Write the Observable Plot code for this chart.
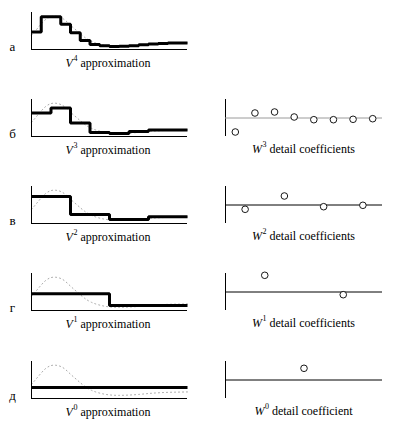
<!DOCTYPE html>
<html><head><meta charset="utf-8">
<script src="https://cdn.jsdelivr.net/npm/d3@7"></script>
<script src="https://cdn.jsdelivr.net/npm/@observablehq/plot@0.6"></script>
<style>
body{margin:0;background:#fff;}
#root{position:relative;width:394px;height:422px;font-family:"Liberation Serif","Times New Roman","DejaVu Serif",serif;color:#000;overflow:hidden;}
.cap{position:absolute;font-size:12px;white-space:nowrap;transform:translate(-50%,-50%);line-height:1;}
.cap sup{font-size:8px;position:relative;top:-1px;margin-left:0.5px;}
.lab{position:absolute;font-size:13px;transform:translate(-50%,-50%);line-height:1;}
#root svg{position:absolute;background:transparent;}
</style></head><body><div id="root"></div>
<script>
// Row labels and levels
const rowLabels = ["а", "б", "в", "г", "д"];
const approxLevels = [4, 3, 2, 1, 0];
const detailLevels = [3, 2, 1, 0];

// Approximation (step) values
const approx4 = [52, 97, 97, 75, 50, 27, 15, 11, 9, 10, 11, 14, 16, 18, 19, 19];
const approx3 = [70, 85, 40, 12, 9, 15, 19, 19];
const approx2 = [80, 27, 12, 20];
const approx1 = [50, 15];
const approx0 = [33];

// Original function (dotted curve)
const curveX = [0, 0.03, 0.06, 0.09, 0.12, 0.15, 0.19, 0.22, 0.25, 0.28, 0.31, 0.34, 0.38, 0.44, 0.5, 0.56, 0.62, 0.69, 0.75, 0.81, 0.88, 0.94, 1];
const curveY = [42, 58, 75, 90, 98, 100, 96, 86, 72, 60, 48, 36, 24, 15, 10, 9, 10, 12, 15, 17, 18.5, 19, 19.5];

// Detail coefficients
const detail3 = [-14, 5, 6, 1, -1.7, -1.7, -1.3, -0.7];
const detail2 = [-4.3, 9, -1.7, -0.3];
const detail1 = [16.7, -2.7];
const detail0 = [11.7];

const approxSets = [approx4, approx3, approx2, approx1, approx0];
const detailSets = [null, detail3, detail2, detail1, detail0];
const detailCaptions = [null, "detail coefficients", "detail coefficients", "detail coefficients", "detail coefficient"];

const root = document.getElementById("root");
const rowTops = [12, 99, 186, 273, 361];
const panelH = 37;
const leftX0 = 31, leftX1 = 187, rightX0 = 225, rightX1 = 382;
const m = 3;

const curve = curveX.map((x, i) => ({x, y: curveY[i]}));

function place(chart, x, y) {
  chart.style.left = (x - m) + "px";
  chart.style.top = (y - m) + "px";
  root.appendChild(chart);
}
function addCap(html, x, y) {
  const d = document.createElement("div");
  d.className = "cap"; d.innerHTML = html;
  d.style.left = x + "px"; d.style.top = y + "px";
  root.appendChild(d);
}
function addLab(t, x, y) {
  const d = document.createElement("div");
  d.className = "lab"; d.textContent = t;
  d.style.left = x + "px"; d.style.top = y + "px";
  root.appendChild(d);
}

approxSets.forEach((vals, r) => {
  const n = vals.length;
  const steps = d3.range(n + 1).map(i => ({x: i / n, y: vals[Math.min(i, n - 1)]}));
  const top = rowTops[r];
  const chart = Plot.plot({
    width: (leftX1 - leftX0) + 2 * m, height: panelH + 2 * m,
    marginLeft: m, marginRight: m, marginTop: m, marginBottom: m,
    style: {background: "transparent", overflow: "visible"},
    x: {domain: [0, 1], axis: null},
    y: {domain: [0, 110], axis: null},
    marks: [
      Plot.line(curve, {x: "x", y: "y", stroke: "#a8a8a8", strokeWidth: 1, strokeDasharray: "1,3", curve: "basis"}),
      Plot.ruleX([0], {stroke: "#000", strokeWidth: 1}),
      Plot.ruleY([0], {stroke: "#000", strokeWidth: 1}),
      Plot.line(steps, {x: "x", y: "y", curve: "step-after", stroke: "#000", strokeWidth: 3, strokeLinejoin: "miter", strokeLinecap: "butt"})
    ]
  });
  place(chart, leftX0, top);
  addCap(`<i>V</i><sup>${approxLevels[r]}</sup> approximation`, (leftX0 + leftX1) / 2 - 1, top + panelH + 13);
  addLab(rowLabels[r], 12.5, top + panelH - 3);

  const det = detailSets[r];
  if (det) {
    const k = det.length;
    const pts = det.map((v, i) => ({x: (i + 0.5) / k, y: v}));
    const c2 = Plot.plot({
      width: (rightX1 - rightX0) + 2 * m, height: panelH + 2 * m,
      marginLeft: m, marginRight: m, marginTop: m, marginBottom: m,
      style: {background: "transparent", overflow: "visible"},
      x: {domain: [0, 1], axis: null},
      y: {domain: [-18.5, 18.5], axis: null},
      marks: [
        Plot.ruleX([0], {stroke: "#000", strokeWidth: 1}),
        Plot.ruleY([0], {stroke: r === 1 ? "#9a9a9a" : "#000", strokeWidth: 1}),
        Plot.dot(pts, {x: "x", y: "y", r: 3.3, stroke: "#000", strokeWidth: 0.9, fill: "white"})
      ]
    });
    place(c2, rightX0, top);
    addCap(`<i>W</i><sup>${detailLevels[r - 1]}</sup> ${detailCaptions[r]}`, (rightX0 + rightX1) / 2, top + panelH + 12);
  }
});
</script></body></html>
